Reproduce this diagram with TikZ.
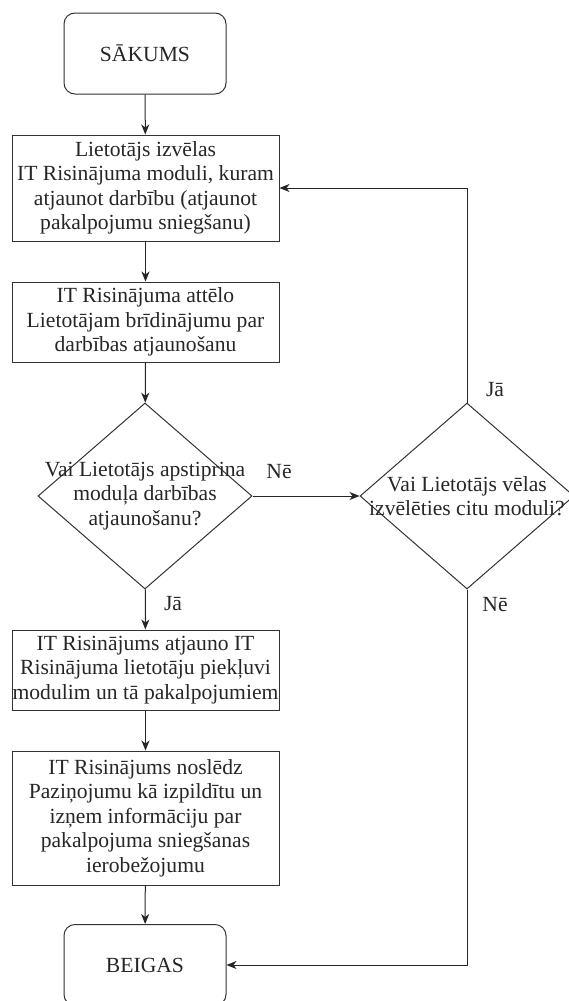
\documentclass[tikz,border=0pt]{standalone}
\usepackage{fontspec}
\setmainfont{Liberation Serif}
\usetikzlibrary{shapes.geometric,arrows.meta}
\begin{document}
\begin{tikzpicture}[x=1pt,y=-1pt,
  every node/.style={font=\fontsize{21.6}{24.5}\selectfont, text=black!85},
  term/.style={draw=black!80, line width=1pt, rounded corners=11pt, minimum width=162pt, minimum height=81pt, inner sep=0pt},
  proc/.style={draw=black!80, line width=1pt, minimum width=267pt, inner sep=0pt, align=center},
  dec/.style={draw=black!80, line width=1pt, diamond, minimum width=214pt, minimum height=186pt, inner sep=0pt},
  dtext/.style={align=center, inner sep=0pt},
  lab/.style={inner sep=0pt},
  arr/.style={draw=black!85, line width=1pt, -{Stealth[length=10pt,width=8pt,inset=3pt]}}
]
\useasboundingbox (0,0) rectangle (568,1001);
\node[term] (start) at (145,53.5) {SĀKUMS};
\node[proc, minimum height=106pt] (b1) at (145.5,188) {Lietotājs izvēlas\\IT Risinājuma moduli, kuram\\atjaunot darbību (atjaunot\\pakalpojumu sniegšanu)};
\node[proc, minimum height=80pt] (b2) at (145.5,322) {IT Risinājuma attēlo\\Lietotājam brīdinājumu par\\darbības atjaunošanu};
\node[dec] (d1) at (145,496) {};
\node[dtext] (t1) at (d1.center) {Vai Lietotājs apstiprina\\moduļa darbības\\atjaunošanu?};
\node[dec] (d2) at (467,496) {};
\node[dtext] (t2) at (d2.center) {Vai Lietotājs vēlas\\izvēlēties citu moduli?};
\node[proc, minimum height=80pt] (b3) at (145.5,670) {IT Risinājums atjauno IT\\Risinājuma lietotāju piekļuvi\\modulim un tā pakalpojumiem};
\node[proc, minimum height=134pt] (b4) at (145.5,818) {IT Risinājums noslēdz\\Paziņojumu kā izpildītu un\\izņem informāciju par\\pakalpojuma sniegšanas\\ierobežojumu};
\node[term] (end) at (145,965) {BEIGAS};

\draw[arr] (start) -- (b1);
\draw[arr] (b1) -- (b2);
\draw[arr] (b2) -- (d1);
\draw[arr] (d1) -- (b3);
\draw[arr] (d1) -- (d2);
\draw[arr] (d2.north) |- (b1.east);
\draw[arr] (d2.south) |- (end.east);
\draw[arr] (b3) -- (b4);
\draw[arr] (b4) -- (end);

\node[lab] (l1) at (279,472) {Nē};
\node[lab] (l2) at (173,604) {Jā};
\node[lab] (l3) at (495,390) {Jā};
\node[lab] (l4) at (495,605) {Nē};
\end{tikzpicture}
\end{document}
